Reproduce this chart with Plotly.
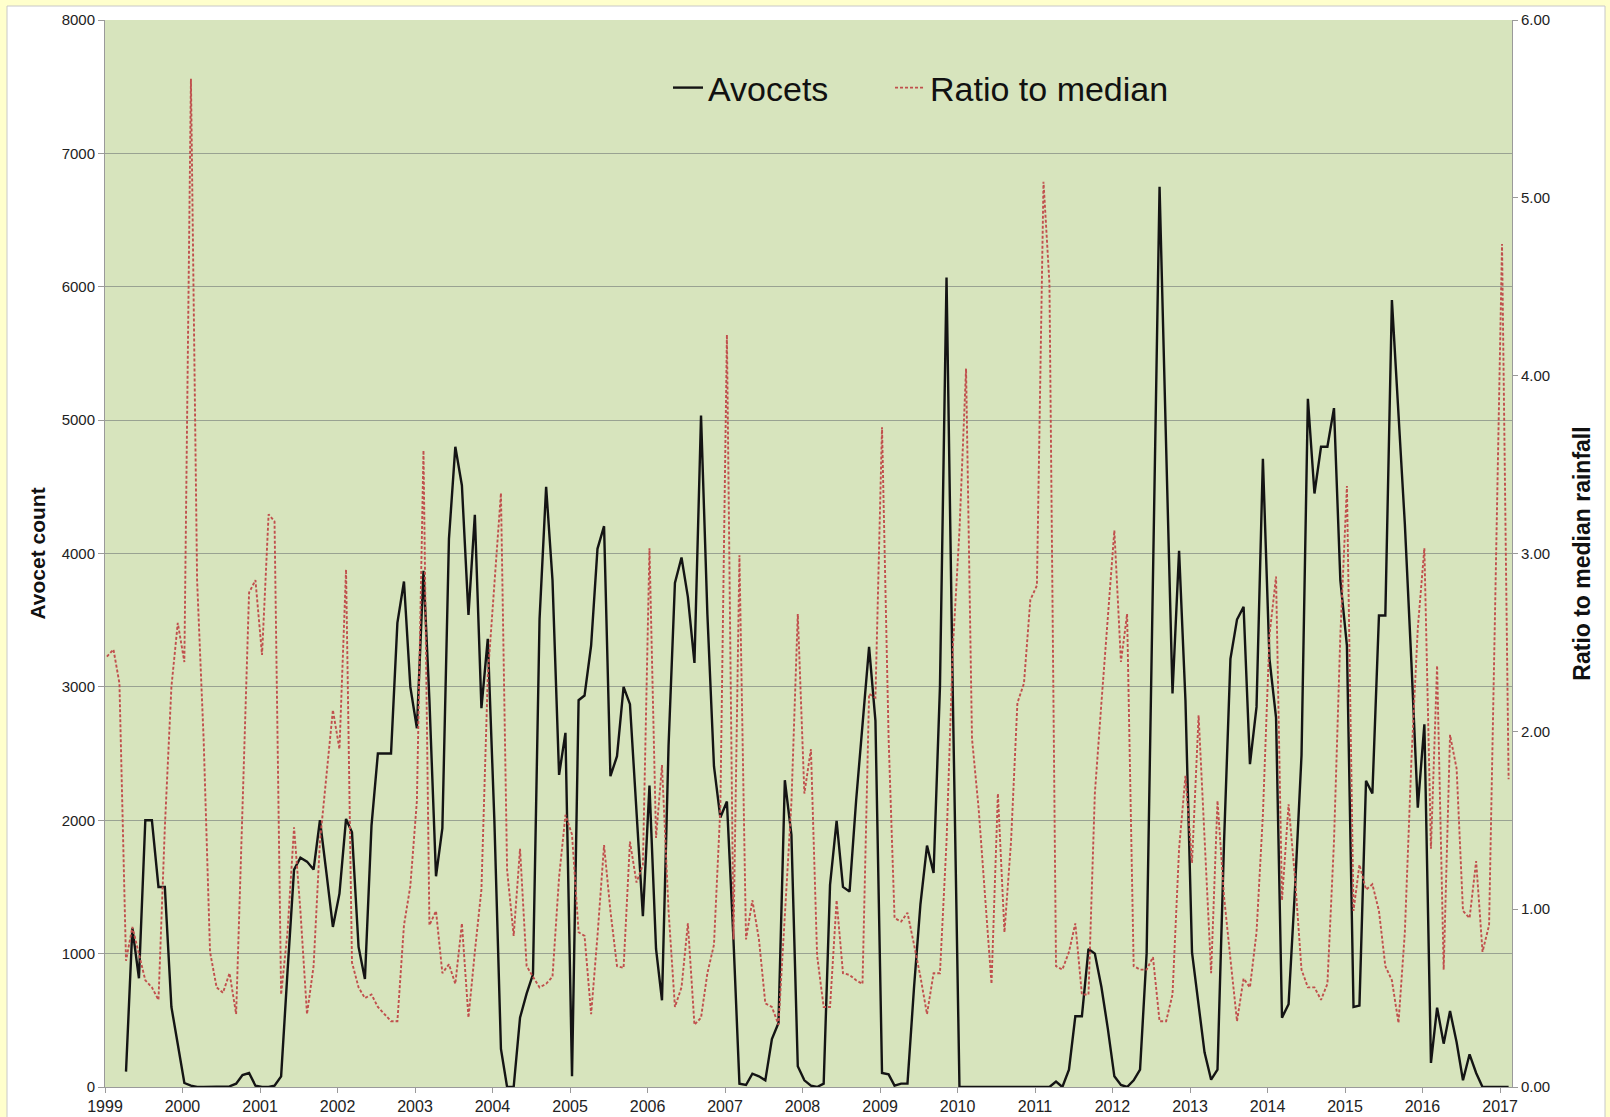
import pandas as pd
import plotly.graph_objects as go

# Monthly observations, Jan 1999 .. Feb 2017 (218 months)
start_month = "1999-01-01"
n_months = 218
day_offset = 9  # observations plotted ~10th of each month

avocets = [
    None, None, None, 115, 1190, 815, 2000, 2000, 1500, 1500, 600, 320,          # 1999
    30, 10, 0, 0, 0, 0, 5, 5, 25, 90, 105, 10,                                   # 2000
    0, 0, 10, 80, 860, 1630, 1720, 1690, 1630, 2000, 1600, 1200,                 # 2001
    1450, 2010, 1910, 1050, 810, 1960, 2500, 2500, 2500, 3480, 3790, 3000,       # 2002
    2690, 3870, 2900, 1580, 1940, 4110, 4800, 4510, 3540, 4290, 2840, 3360,      # 2003
    2000, 285, 0, 0, 520, 700, 845, 3510, 4500, 3800, 2340, 2655,                # 2004
    80, 2900, 2935, 3310, 4035, 4205, 2330, 2480, 3000, 2870, 2100, 1280,        # 2005
    2260, 1035, 650, 2560, 3780, 3970, 3675, 3180, 5035, 3545, 2405, 2020,       # 2006
    2140, 1100, 25, 15, 100, 80, 50, 360, 480, 2300, 1890, 155,                  # 2007
    50, 10, 0, 25, 1515, 1995, 1500, 1465, 2150, 2745, 3300, 2745,               # 2008
    105, 95, 10, 25, 25, 750, 1370, 1810, 1605, 3000, 6070, 2900,                # 2009
    0, 0, 0, 0, 0, 0, 0, 0, 0, 0, 0, 0,                                          # 2010
    0, 0, 0, 40, 0, 130, 530, 530, 1035, 1000, 750, 440,                         # 2011
    80, 15, 0, 50, 130, 1000, 3700, 6750, 4800, 2950, 4020, 2900,                # 2012
    1010, 595, 260, 55, 130, 1840, 3210, 3505, 3600, 2420, 2850, 4710,           # 2013
    3210, 2770, 520, 620, 1475, 2485, 5160, 4450, 4800, 4800, 5090, 3800,        # 2014
    3310, 600, 610, 2295, 2200, 3535, 3535, 5900, 5000, 4220, 3180, 2095,        # 2015
    2720, 180, 595, 325, 570, 335, 50, 245, 105, 0, 0, 0,                        # 2016
    0, 0,                                                                        # 2017
]

ratio_to_median = [
    2.42, 2.46, 2.27, 0.71, 0.90, 0.74, 0.60, 0.56, 0.49, 1.46, 2.25, 2.61,     # 1999
    2.39, 5.67, 2.85, 1.95, 0.76, 0.56, 0.53, 0.64, 0.41, 1.57, 2.78, 2.85,     # 2000
    2.43, 3.22, 3.18, 0.52, 0.87, 1.46, 0.99, 0.41, 0.68, 1.38, 1.77, 2.12,     # 2001
    1.90, 2.91, 0.70, 0.56, 0.50, 0.52, 0.45, 0.41, 0.37, 0.37, 0.91, 1.13,     # 2002
    1.61, 3.58, 0.91, 0.99, 0.64, 0.69, 0.58, 0.92, 0.39, 0.76, 1.11, 2.31,     # 2003
    2.80, 3.34, 1.22, 0.85, 1.34, 0.68, 0.62, 0.56, 0.58, 0.62, 1.18, 1.53,     # 2004
    1.42, 0.87, 0.85, 0.41, 0.85, 1.36, 0.99, 0.68, 0.67, 1.38, 1.15, 1.25,     # 2005
    3.03, 1.40, 1.81, 0.99, 0.45, 0.56, 0.92, 0.35, 0.39, 0.64, 0.80, 1.57,     # 2006
    4.23, 0.83, 2.99, 0.83, 1.05, 0.83, 0.47, 0.45, 0.35, 1.00, 1.60, 2.66,     # 2007
    1.65, 1.90, 0.74, 0.45, 0.45, 1.05, 0.64, 0.63, 0.60, 0.58, 2.21, 2.19,     # 2008
    3.71, 1.96, 0.95, 0.93, 0.98, 0.80, 0.62, 0.41, 0.64, 0.64, 1.38, 2.47,     # 2009
    3.13, 4.04, 1.96, 1.57, 1.11, 0.58, 1.65, 0.87, 1.38, 2.16, 2.27, 2.74,     # 2010
    2.82, 5.09, 4.52, 0.68, 0.66, 0.76, 0.92, 0.52, 0.52, 1.65, 2.16, 2.62,     # 2011
    3.13, 2.39, 2.66, 0.68, 0.66, 0.66, 0.73, 0.37, 0.37, 0.52, 1.34, 1.75,     # 2012
    1.26, 2.09, 1.38, 0.64, 1.61, 1.07, 0.72, 0.37, 0.61, 0.56, 0.87, 1.53,     # 2013
    2.54, 2.87, 1.05, 1.59, 1.18, 0.66, 0.56, 0.56, 0.49, 0.58, 1.38, 2.54,     # 2014
    3.38, 0.99, 1.25, 1.11, 1.14, 0.99, 0.68, 0.60, 0.36, 0.87, 1.84, 2.58,     # 2015
    3.03, 1.34, 2.37, 0.66, 1.98, 1.79, 0.99, 0.95, 1.27, 0.76, 0.91, 2.90,     # 2016
    4.74, 1.73,                                                                 # 2017
]

left_title = "Avocet count"
right_title = "Ratio to median rainfall"
series_names = ["Avocets", "Ratio to median"]

dates = pd.date_range(start_month, periods=n_months, freq="MS") + pd.Timedelta(days=day_offset)

PAGE_YELLOW = "#FFFFCC"
PLOT_GREEN = "#D7E4BD"
GRID = "#99A292"
AXIS = "#9A9A9A"
FONT = "Liberation Sans, Arial, sans-serif"
NBSP = "\u00a0"

fig = go.Figure()
fig.add_trace(go.Scatter(
    x=dates, y=avocets, name=series_names[0] + NBSP * 6, mode="lines",
    line=dict(color="#141414", width=2.4), connectgaps=False,
))
fig.add_trace(go.Scatter(
    x=dates, y=ratio_to_median, name=series_names[1], mode="lines",
    line=dict(color="#C0504D", width=1.9, dash="3px,2px"), yaxis="y2",
))

W, H = 1610, 1117
ml, mr, mt, mb = 105, 98, 20, 30
pw, ph = W - ml - mr, H - mt - mb

def px_x(p):
    return (p - ml) / pw

def px_y(p):
    return (H - mb - p) / ph

fig.update_layout(
    width=W, height=H,
    margin=dict(l=ml, r=mr, t=mt, b=mb, pad=0, autoexpand=False),
    paper_bgcolor=PAGE_YELLOW,
    plot_bgcolor="rgba(0,0,0,0)",
    font=dict(family=FONT, color="#222222", size=15),
    showlegend=True,
    legend=dict(
        orientation="h", x=px_x(668), y=px_y(88), xanchor="left", yanchor="middle",
        bgcolor="rgba(0,0,0,0)", font=dict(size=34, color="#111111"),
        itemwidth=30,
    ),
    shapes=[
        dict(type="rect", xref="paper", yref="paper",
             x0=px_x(7), x1=px_x(1605), y0=px_y(1140), y1=px_y(6),
             fillcolor="white", line=dict(color="#C8C8C8", width=1), layer="below"),
        dict(type="rect", xref="paper", yref="paper", x0=0, x1=1, y0=0, y1=1,
             fillcolor=PLOT_GREEN, line=dict(width=0), layer="below"),
    ],
    xaxis=dict(
        type="date", range=["1999-01-01", "2017-02-26"],
        tick0="1999-01-01", dtick="M12", tickformat="%Y",
        showgrid=False, showline=True, linecolor=AXIS, linewidth=1,
        ticks="outside", ticklen=5, tickcolor=AXIS, automargin=False,
        tickfont=dict(size=16, color="#222222"), zeroline=False,
    ),
    yaxis=dict(
        range=[0, 8000], dtick=1000, tick0=0,
        showgrid=True, gridcolor=GRID, gridwidth=1,
        showline=True, linecolor=AXIS, linewidth=1, automargin=False,
        ticks="outside", ticklen=6, tickcolor=AXIS,
        tickfont=dict(size=15, color="#222222"), zeroline=False,
        title=dict(text="<b>" + left_title + "</b>", font=dict(size=21, color="#111111"), standoff=10),
    ),
    yaxis2=dict(
        range=[0, 6], dtick=1, tick0=0, tickformat=".2f",
        overlaying="y", side="right", showgrid=False, automargin=False,
        showline=True, linecolor=AXIS, linewidth=1,
        ticks="outside", ticklen=5, tickcolor=AXIS,
        tickfont=dict(size=15, color="#222222"), zeroline=False,
        title=dict(text="<b>" + right_title + "</b>", font=dict(size=23, color="#111111"), standoff=24),
    ),
)

fig.write_html(
    "out.html",
    config={"displayModeBar": False},
    post_script="document.body.style.margin='0';document.body.style.overflow='hidden';",
)
